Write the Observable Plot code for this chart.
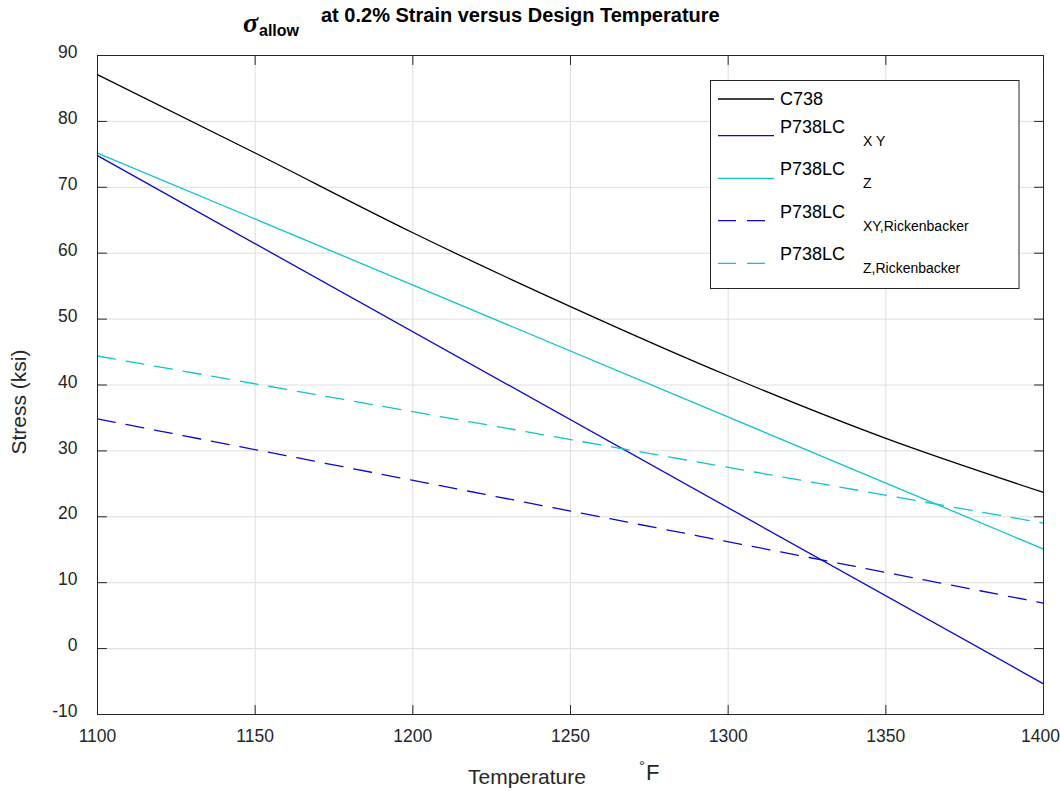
<!DOCTYPE html>
<html>
<head>
<meta charset="utf-8">
<script src="https://cdn.jsdelivr.net/npm/d3@7"></script>
<script src="https://cdn.jsdelivr.net/npm/@observablehq/plot@0.6"></script>
<style>
  body { margin: 0; background: #fff; font-family: "Liberation Sans", Arial, sans-serif; }
  #wrap { width: 1060px; height: 791px; position: relative; }
  #title svg, #chart svg { display: block; }
</style>
</head>
<body>
<div id="wrap">
  <div id="title"></div>
  <div id="chart"></div>
</div>
<script>
// ---- data ----
const temps = [1100, 1150, 1200, 1250, 1300, 1350, 1400];
const c738 = [87.1, 75.2, 63.1, 51.9, 41.4, 31.9, 23.7];
const lineTemps = [1100, 1400];
const p738XY = [74.8, -5.35];
const p738Z = [75.2, 15.1];
const p738XYRick = [34.85, 6.9];
const p738ZRick = [44.4, 19.05];

const seriesNames = ["C738", "P738LC", "P738LC", "P738LC", "P738LC"];
const seriesSubs = ["", "X Y", "Z", "XY,Rickenbacker", "Z,Rickenbacker"];
const seriesColors = ["#000000", "#0a0ac8", "#10c4c8", "#0a0ac8", "#10c4c8"];
const seriesDashed = [false, false, false, true, true];

const xTicks = [1100, 1150, 1200, 1250, 1300, 1350, 1400];
const yTicks = [-10, 0, 10, 20, 30, 40, 50, 60, 70, 80, 90];

const titleMain = "at 0.2% Strain versus Design Temperature";
const titleSymbol = "σ";
const titleSub = "allow";
const xLabel = "Temperature";
const xUnitDeg = "°";
const xUnit = "F";
const yLabel = "Stress (ksi)";

// ---- build rows ----
const seriesData = [
  temps.map((t, i) => ({t, v: c738[i]})),
  lineTemps.map((t, i) => ({t, v: p738XY[i]})),
  lineTemps.map((t, i) => ({t, v: p738Z[i]})),
  lineTemps.map((t, i) => ({t, v: p738XYRick[i]})),
  lineTemps.map((t, i) => ({t, v: p738ZRick[i]}))
];

const axisColor = "#262626";
const tickShape = {draw(context, l) { context.moveTo(0, 0); context.lineTo(0, -l); }};
const tickLen = 9;
const dash = "18,11";
const sans = "'Liberation Sans', Arial, sans-serif";
const lastX = xTicks[xTicks.length - 1];

// ---- title ----
const tsvg = d3.select("#title").append("svg").attr("width", 1060).attr("height", 40);
tsvg.append("text").attr("x", 243).attr("y", 32)
  .attr("font-family", "'Liberation Serif', 'DejaVu Serif', serif")
  .attr("font-style", "italic").attr("font-weight", "bold").attr("font-size", 28)
  .attr("fill", "#000").text(titleSymbol);
tsvg.append("text").attr("x", 259).attr("y", 36)
  .attr("font-family", sans)
  .attr("font-weight", "bold").attr("font-size", 16).attr("fill", "#000").text(titleSub);
tsvg.append("text").attr("x", 321).attr("y", 22)
  .attr("font-family", sans)
  .attr("font-weight", "bold").attr("font-size", 20).attr("fill", "#000").text(titleMain);

// ---- chart ----
const lineMarks = seriesData.map((rows, i) => Plot.line(rows, {
  x: "t", y: "v", stroke: seriesColors[i], strokeWidth: 1.3,
  strokeDasharray: seriesDashed[i] ? dash : null,
  curve: i === 0 ? "monotone-x" : "linear"
}));

const chart = Plot.plot({
  width: 1060,
  height: 751,
  marginTop: 15,
  marginBottom: 77,
  marginLeft: 97,
  marginRight: 17,
  style: {fontFamily: sans, fontSize: "17.5px", color: axisColor, background: "#fff"},
  x: {domain: [1100, 1400]},
  y: {domain: [-10, 90]},
  marks: [
    Plot.gridX(xTicks, {stroke: "#dedede", strokeOpacity: 1}),
    Plot.gridY(yTicks, {stroke: "#dedede", strokeOpacity: 1}),
    ...lineMarks,
    Plot.frame({stroke: axisColor, strokeWidth: 1}),
    Plot.vector(xTicks, {x: d => d, frameAnchor: "bottom", length: tickLen, rotate: 0, anchor: "start", shape: tickShape, stroke: axisColor, strokeWidth: 1}),
    Plot.vector(xTicks, {x: d => d, frameAnchor: "top", length: tickLen, rotate: 180, anchor: "start", shape: tickShape, stroke: axisColor, strokeWidth: 1}),
    Plot.vector(yTicks, {y: d => d, frameAnchor: "left", length: tickLen, rotate: 90, anchor: "start", shape: tickShape, stroke: axisColor, strokeWidth: 1}),
    Plot.vector(yTicks, {y: d => d, frameAnchor: "right", length: tickLen, rotate: -90, anchor: "start", shape: tickShape, stroke: axisColor, strokeWidth: 1}),
    Plot.axisX(xTicks.filter(d => d !== lastX), {tickSize: 0, tickPadding: 15, fontSize: 17.5, label: null, tickFormat: d => String(d), fill: axisColor}),
    Plot.axisX([lastX], {tickSize: 0, tickPadding: 15, fontSize: 17.5, label: null, dx: -3, tickFormat: d => String(d), fill: axisColor}),
    Plot.axisY(yTicks, {tickSize: 0, tickPadding: 20, fontSize: 17.5, label: null, dy: -3, tickFormat: d => String(d), fill: axisColor})
  ]
});
document.getElementById("chart").appendChild(chart);

// ---- axis labels ----
const svg = d3.select(chart);
const lab = svg.append("g").attr("font-family", sans).attr("fill", axisColor).attr("text-anchor", "start");
lab.append("text").attr("x", 468).attr("y", 744).attr("font-size", 21).attr("text-anchor", "start").text(xLabel);
lab.append("text").attr("x", 639).attr("y", 731).attr("font-size", 15).attr("text-anchor", "start").text(xUnitDeg);
lab.append("text").attr("x", 646).attr("y", 740).attr("font-size", 22).attr("text-anchor", "start").text(xUnit);
lab.append("text").attr("transform", "translate(26,362) rotate(-90)").attr("text-anchor", "middle")
  .attr("font-size", 21).text(yLabel);

// ---- legend ----
const lg = svg.append("g").attr("font-family", sans).attr("text-anchor", "start");
lg.append("rect").attr("x", 710.5).attr("y", 40.5).attr("width", 308.5).attr("height", 208)
  .attr("fill", "#fff").attr("stroke", axisColor).attr("stroke-width", 1);
const entryY = [59, 95.7, 138.3, 180.7, 223.3];
seriesNames.forEach((name, i) => {
  const y = entryY[i];
  lg.append("line").attr("x1", 718).attr("x2", 774).attr("y1", y).attr("y2", y)
    .attr("stroke", seriesColors[i]).attr("stroke-width", 1.3)
    .attr("stroke-dasharray", seriesDashed[i] ? dash : null);
  const hasSub = seriesSubs[i] !== "";
  lg.append("text").attr("x", 780).attr("y", hasSub ? y - 3 : y + 6)
    .attr("text-anchor", "start")
    .attr("font-size", 18).attr("fill", "#000").text(name);
  if (hasSub) {
    lg.append("text").attr("x", 863).attr("y", y + 10)
      .attr("text-anchor", "start")
      .attr("font-size", 14).attr("fill", "#000").text(seriesSubs[i]);
  }
});
</script>
</body>
</html>
